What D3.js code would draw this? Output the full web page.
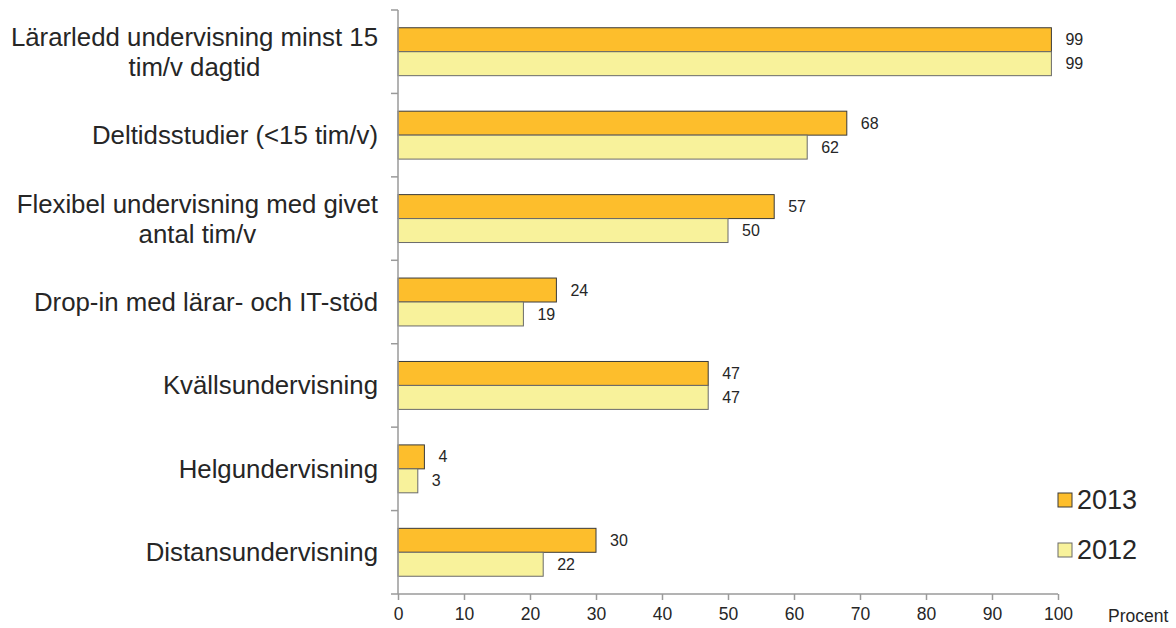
<!DOCTYPE html>
<html><head><meta charset="utf-8">
<script src="https://cdn.jsdelivr.net/npm/d3@7"></script>
<style>body{margin:0;background:#fff;} svg{display:block;font-family:"Liberation Sans",Arial,sans-serif;}</style>
</head><body>
<svg id="c" width="1176" height="628"></svg>
<script>
const categories = [
  ["Lärarledd undervisning minst 15", "tim/v dagtid"],
  ["Deltidsstudier (<15 tim/v)"],
  ["Flexibel undervisning med givet", "antal tim/v"],
  ["Drop-in med lärar- och IT-stöd"],
  ["Kvällsundervisning"],
  ["Helgundervisning"],
  ["Distansundervisning"]
];
const seriesNames = ["2013", "2012"];
const values2013 = [99, 68, 57, 24, 47, 4, 30];
const values2012 = [99, 62, 50, 19, 47, 3, 22];
const xTicks = [0, 10, 20, 30, 40, 50, 60, 70, 80, 90, 100];
const xAxisTitle = "Procent";

const colors = {"2013": "#FDBE2C", "2012": "#F8F29B"};
const strokes = {"2013": "#3a3a3a", "2012": "#6a6a6a"};
const seriesValues = {"2013": values2013, "2012": values2012};
const textColor = "#262626";

const svg = d3.select("#c");
const x0 = 398, x1 = 1058, yTop = 10, yBot = 594;
const keys = categories.map((d, i) => i);

const x = d3.scaleLinear().domain([0, 100]).range([x0, x1]);
const y = d3.scaleBand().domain(keys).range([yTop, yBot]).paddingInner(0.4257).paddingOuter(0.2128);
const ySub = d3.scaleBand().domain(seriesNames).range([0, y.bandwidth()]);

// bars
seriesNames.forEach(s => {
  const g = svg.append("g");
  g.selectAll("rect").data(seriesValues[s]).join("rect")
    .attr("x", x(0))
    .attr("y", (d, i) => y(i) + ySub(s))
    .attr("width", d => x(d) - x(0))
    .attr("height", ySub.bandwidth())
    .attr("fill", colors[s])
    .attr("stroke", strokes[s])
    .attr("stroke-width", 1);
  g.selectAll("text").data(seriesValues[s]).join("text")
    .attr("x", d => x(d) + 14)
    .attr("y", (d, i) => y(i) + ySub(s) + ySub.bandwidth() / 2)
    .attr("dy", "0.35em")
    .attr("font-size", 16)
    .attr("fill", textColor)
    .text(d => d);
});

// y axis line + ticks at category boundaries
const axisColor = "#9a9a9a";
svg.append("line").attr("x1", x0).attr("x2", x0).attr("y1", yTop).attr("y2", yBot)
  .attr("stroke", axisColor).attr("stroke-width", 1.5);
const step = y.step();
d3.range(0, categories.length).forEach(i => {
  const yy = y(i) - y.paddingOuter() * step;
  svg.append("line").attr("x1", x0 - 7).attr("x2", x0).attr("y1", yy).attr("y2", yy)
    .attr("stroke", axisColor).attr("stroke-width", 1.5);
});

// x axis
const xAxis = d3.axisBottom(x).tickValues(xTicks).tickSize(6).tickPadding(8).tickSizeOuter(0);
const gx = svg.append("g").attr("transform", `translate(0,${yBot})`).call(xAxis);
gx.select(".domain").attr("stroke", axisColor).attr("stroke-width", 1.5).attr("d", `M${x0 - 7},0H${x1}`);
gx.selectAll(".tick line").attr("stroke", axisColor).attr("stroke-width", 1.5);
gx.selectAll(".tick text").attr("font-size", 17.5).attr("fill", textColor)
  .attr("font-family", "Liberation Sans, Arial, sans-serif");
svg.append("text").attr("x", 1108).attr("y", 622).attr("font-size", 17.5).attr("fill", textColor)
  .text(xAxisTitle);

// category labels
const lab = svg.append("g").attr("font-size", 25.8).attr("fill", textColor);
categories.forEach((lines, i) => {
  const cy = y(i) + y.bandwidth() / 2;
  const lh = 30;
  const g = lab.append("g");
  const texts = lines.map((t, k) => g.append("text")
    .attr("y", cy + (k - (lines.length - 1) / 2) * lh)
    .attr("dy", "0.35em").text(t));
  const widths = texts.map(t => t.node().getComputedTextLength());
  const maxW = d3.max(widths);
  const right = 378;
  const center = right - maxW / 2;
  texts.forEach(t => t.attr("x", center).attr("text-anchor", "middle"));
});

// legend
const leg = svg.append("g");
const legY = {"2013": 493, "2012": 543};
seriesNames.forEach(s => {
  leg.append("rect").attr("x", 1058).attr("y", legY[s]).attr("width", 14).attr("height", 14)
    .attr("fill", colors[s]).attr("stroke", strokes[s]).attr("stroke-width", 1);
  leg.append("text").attr("x", 1077).attr("y", legY[s] + 7).attr("dy", "0.35em")
    .attr("font-size", 27).attr("fill", textColor).text(s);
});
</script>
</body></html>
